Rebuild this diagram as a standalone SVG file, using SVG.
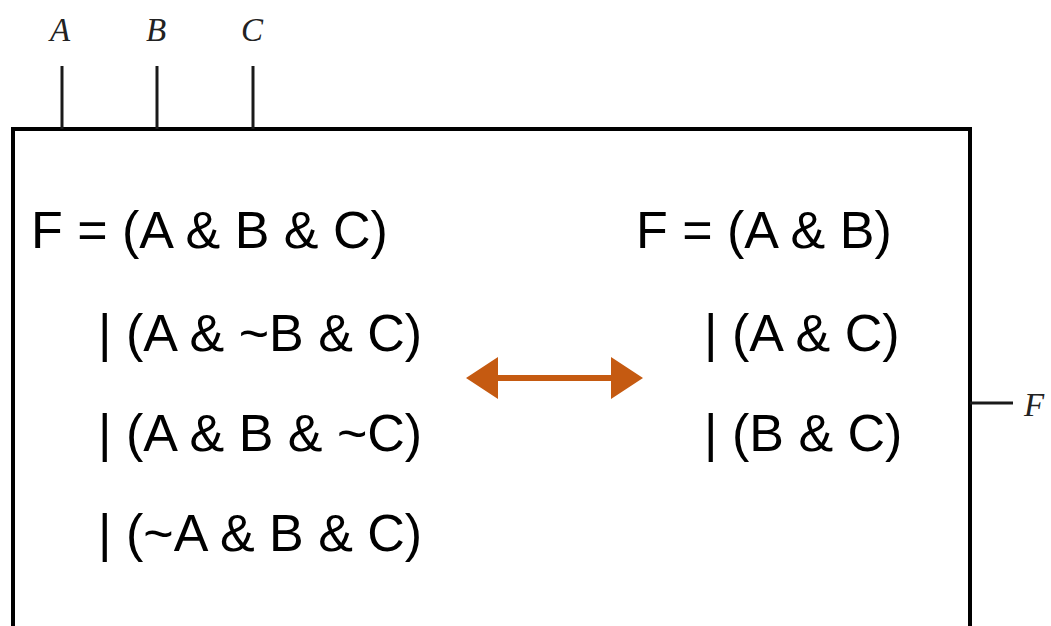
<svg xmlns="http://www.w3.org/2000/svg" width="1051" height="626" viewBox="0 0 1051 626">
<style>
.pin{fill:#222;font-family:"Liberation Serif",serif;font-style:italic;font-size:33px}
.eq{fill:#000;font-family:"Liberation Sans",Arial,sans-serif;font-size:52px}
.wire{stroke:#1a1a1a;stroke-width:3;fill:none}
</style>
<rect width="1051" height="626" fill="#fff"/>
<g id="box"><rect x="13" y="129" width="957" height="560" fill="none" stroke="#000" stroke-width="4"/></g>
<g id="pins">
<text class="pin" x="60" y="41" text-anchor="middle">A</text>
<text class="pin" x="156" y="41" text-anchor="middle">B</text>
<text class="pin" x="252" y="41" text-anchor="middle">C</text>
<text class="pin" x="1024" y="416">F</text>
</g>
<g id="connectors">
<line class="wire" x1="62" y1="66" x2="62" y2="129"/>
<line class="wire" x1="157" y1="66" x2="157" y2="129"/>
<line class="wire" x1="253" y1="66" x2="253" y2="129"/>
<line class="wire" x1="970" y1="403" x2="1013" y2="403"/>
<path d="M466,378 L498,357 L498,375 L611,375 L611,357 L643,378 L611,399 L611,381 L498,381 L498,399 Z" fill="#c55a11"/>
</g>
<g id="left-expr">
<text class="eq" x="31" y="248">F = (A &amp; B &amp; C)</text>
<text class="eq" x="98" y="351">| (A &amp; ~B &amp; C)</text>
<text class="eq" x="98" y="451">| (A &amp; B &amp; ~C)</text>
<text class="eq" x="98" y="551">| (~A &amp; B &amp; C)</text>
</g>
<g id="right-expr">
<text class="eq" x="636" y="248">F = (A &amp; B)</text>
<text class="eq" x="704" y="351">| (A &amp; C)</text>
<text class="eq" x="704" y="451">| (B &amp; C)</text>
</g>
</svg>
